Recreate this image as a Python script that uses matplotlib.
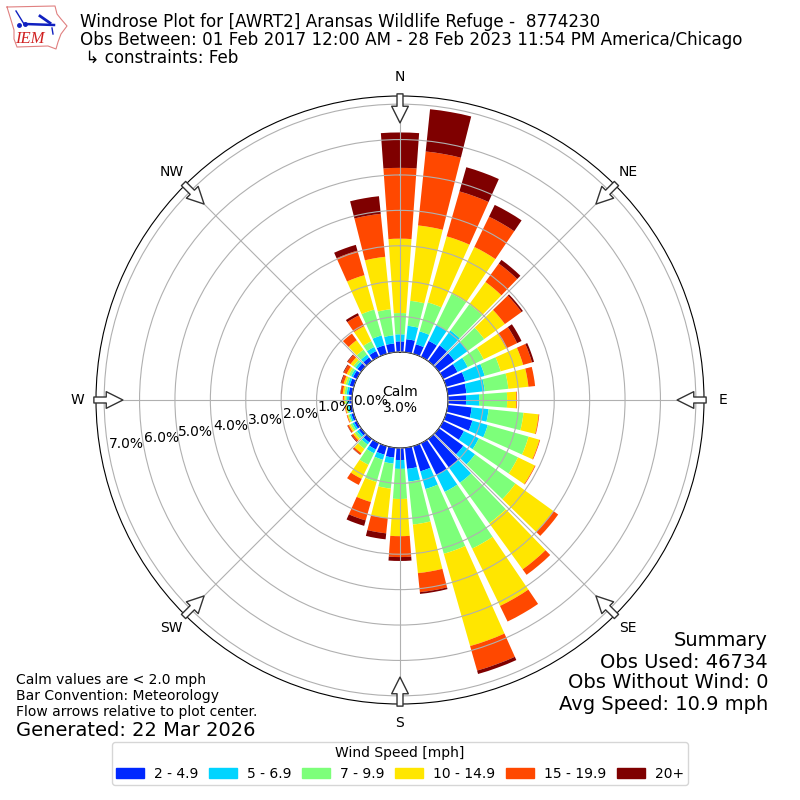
"""Windrose plot for AWRT2 Aransas Wildlife Refuge, February obs."""

import matplotlib
matplotlib.use('Agg')
import matplotlib.pyplot as plt
import numpy as np
from matplotlib.patches import Patch

plt.rcParams.update({'font.family': 'DejaVu Sans', 'font.size': 10})

# direction bins, degrees from north, clockwise
directions = list(range(0, 360, 10))

# percent of obs per speed class, one value per direction bin
speed_labels = ['2 - 4.9', '5 - 6.9', '7 - 9.9', '10 - 14.9', '15 - 19.9', '20+']
speed_colors = ['#0028FF', '#00D4FF', '#7DFF7A', '#FFE600', '#FF4800', '#7F0000']

s2_5 = [.30, .37, .28, .50, .55, .54, .45, .56, .53, .51, .68, .77,
        .65, .85, 1.0, 1.0, .74, .60, .34, .28, .25, .20, .12, .08,
        .08, .07, .07, .08, .10, .12, .12, .13, .13, .18, .25, .25]
s5_7 = [.20, .38, .38, .50, .52, .46, .32, .57, .52, .37, .48, .45,
        .47, .41, .53, .53, .52, .36, .25, .17, .15, .12, .08, .07,
        .06, .05, .05, .06, .06, .06, .06, .07, .10, .13, .29, .23]
s7_10 = [.60, .71, .85, .98, .91, .58, .50, .47, .67, .79, .99, 1.20,
         1.23, 1.41, 1.41, 1.78, 1.90, 1.22, .85, .71, .65, .36, .15, .07,
         .06, .04, .04, .05, .06, .06, .07, .07, .17, .18, .76, .74]
s10_15 = [2.10, 2.14, 1.94, 1.47, .78, .72, .71, .66, .57, .26, .43, .32,
          .53, 1.33, 1.61, 1.80, 2.71, 1.38, 1.05, .84, .59, .44, .15, .06,
          .05, .03, .03, .04, .05, .06, .07, .10, .33, .47, 1.01, 1.49]
s15_20 = [2.00, 2.10, 1.32, .95, .64, .58, .34, .26, .19, .02, .02, .02,
          .02, .16, .19, .49, .72, .54, .59, .43, .54, .19, .05, .05,
          .04, .02, .02, .03, .06, .07, .09, .10, .23, .34, .72, 1.22]
s20_up = [1.00, 1.20, .71, .37, .13, .05, .14, .06, 0, 0, 0, 0,
          0, 0, 0, 0, .10, .05, .11, .17, .16, 0, .01, .02,
          .01, 0, 0, 0, .01, .02, .02, .02, 0, .07, .17, .50]
speed_series = [s2_5, s5_7, s7_10, s10_15, s15_20, s20_up]

compass_labels = ['N', 'NE', 'E', 'SE', 'S', 'SW', 'W', 'NW']
compass_angles = [0, 45, 90, 135, 180, 225, 270, 315]
r_ticks = [0, 1, 2, 3, 4, 5, 6, 7]

fig = plt.figure(figsize=(8, 8), dpi=100)
ax = fig.add_axes([0.12, 0.12, 0.76, 0.76], polar=True)
ax.set_theta_zero_location('N')
ax.set_theta_direction(-1)

theta = np.radians(directions)
bottom = np.zeros(len(directions))
for vals, color, label in zip(speed_series, speed_colors, speed_labels):
    ax.bar(theta, vals, width=np.radians(8.2), bottom=bottom, color=color,
           linewidth=0, label=label, zorder=2)
    bottom += np.array(vals)

ax.set_ylim(0, 7.23)
ax.set_rorigin(-1.356)
ax.set_yticks(r_ticks)
ax.set_yticklabels([f'{v:.1f}%' for v in r_ticks])
ax.set_rlabel_position(260)
ax.set_xticks(np.radians(compass_angles))
ax.set_xticklabels(compass_labels)
ax.tick_params(axis='x', pad=3)
ax.grid(True, color='#b0b0b0', linewidth=0.8, zorder=3)
ax.set_axisbelow(False)

# hollow flow arrows on the rim
for ang in compass_angles:
    ax.annotate('', xy=(np.radians(ang), 6.47), xytext=(np.radians(ang), 7.29),
                arrowprops=dict(facecolor='white', edgecolor='#333333', width=4.3,
                                headwidth=12, headlength=12, linewidth=1, shrink=0),
                annotation_clip=False, zorder=6)

fig.text(0.5, 0.5, 'Calm\n3.0%', ha='center', va='center', fontsize=10, zorder=10)

# header
fig.text(0.1, 1 - 13 / 800, 'Windrose Plot for [AWRT2] Aransas Wildlife Refuge -  8774230\n'
         'Obs Between: 01 Feb 2017 12:00 AM - 28 Feb 2023 11:54 PM America/Chicago\n'
         ' \u21b3 constraints: Feb', ha='left', va='top', fontsize=12.05, linespacing=0.98)

# IEM logo
logo = fig.add_axes([0.005, 0.935, 0.08, 0.06])
logo.set_xlim(0, 64)
logo.set_ylim(48, 0)
logo.axis('off')
ox = [3, 51, 53, 57, 63, 57, 54, 52, 44, 13, 10, 10, 7, 3]
oy = [3, 2, 10, 15, 22, 30, 38, 45, 42, 43, 35, 26, 16, 3]
logo.plot(ox, oy, color='#e08080', linewidth=0.8)
logo.plot([21, 50], [20, 21], color='#1020c0', linewidth=1.8)
logo.plot([36, 46], [12, 19], color='#1020c0', linewidth=2)
logo.plot([12, 20], [7, 20], color='#1020c0', linewidth=1)
logo.plot([21, 15], [20, 21], 'o', color='#1020c0', markersize=2.5)
logo.plot([48, 49], [24, 30], color='#1020c0', linewidth=1)
logo.text(11, 35, 'IEM', family='Liberation Serif', style='italic', color='#d02020',
          fontsize=12, va='center', ha='left')

# notes
for y, s in zip([680, 696, 712], ['Calm values are < 2.0 mph', 'Bar Convention: Meteorology',
                                  'Flow arrows relative to plot center.']):
    fig.text(16 / 800, 1 - y / 800, s, ha='left', va='center', fontsize=10)
fig.text(16 / 800, 1 - 730 / 800, 'Generated: 22 Mar 2026', ha='left', va='center', fontsize=14)

for y, s in zip([640, 662, 683, 705], ['Summary', 'Obs Used: 46734', 'Obs Without Wind: 0',
                                       'Avg Speed: 10.9 mph']):
    fig.text(768 / 800, 1 - y / 800, s, ha='right', va='center', fontsize=14)

handles = [Patch(color=c, label=l) for c, l in zip(speed_colors, speed_labels)]
fig.legend(handles=handles, title='Wind Speed [mph]', ncol=6, loc='lower center',
           bbox_to_anchor=(0.5, 0.01), fontsize=10, title_fontsize=10,
           columnspacing=0.8, handletextpad=0.7, borderpad=0.3)

fig.savefig('out.png', dpi=100, facecolor='white')
